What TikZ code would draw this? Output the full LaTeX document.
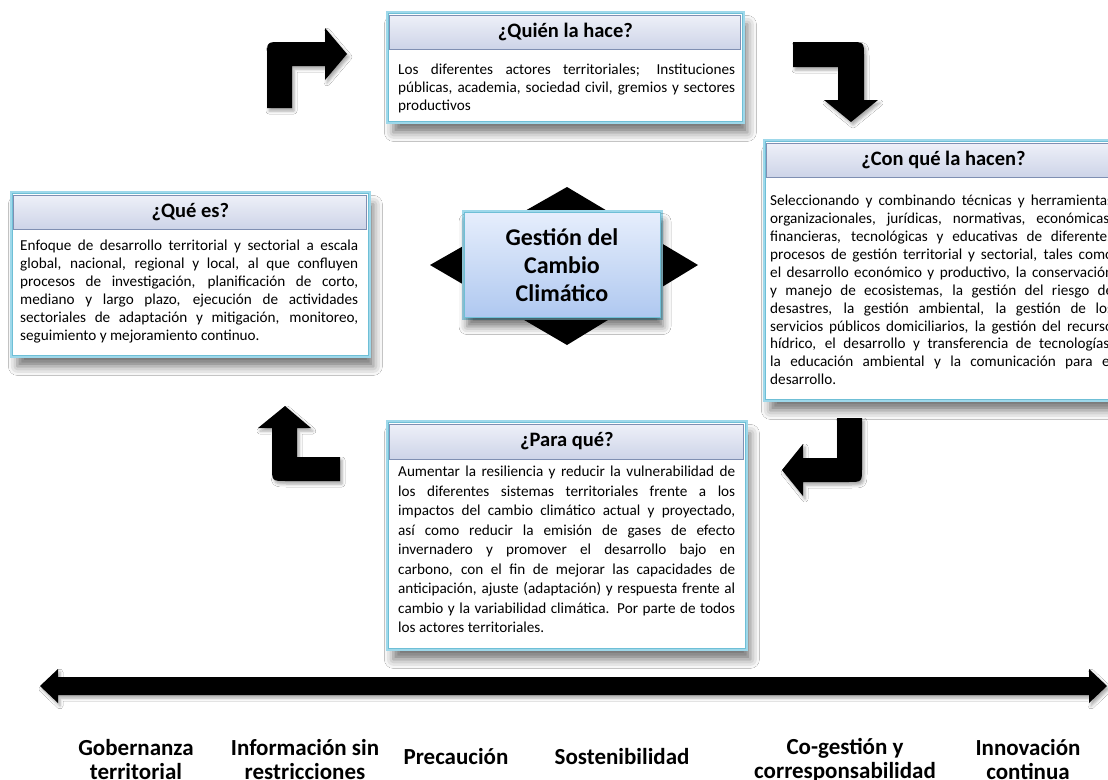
\documentclass[tikz,border=0pt]{standalone}
\usepackage{fontspec}
\setmainfont{Carlito}
\usetikzlibrary{shadows.blur}
\definecolor{glow}{HTML}{9ED8EA}
\definecolor{edge}{HTML}{6FBFD6}
\definecolor{hdtop}{HTML}{EEF0F8}
\definecolor{hdbot}{HTML}{CDD4E8}
\definecolor{hdline}{HTML}{7F8FB2}
\definecolor{ctop}{HTML}{E6EEFC}
\definecolor{cbot}{HTML}{AFC8F0}
\tikzset{
  panel/.style={fill=white, draw=edge, line width=0.8pt, inner sep=0pt,
    blur shadow={shadow xshift=5pt, shadow yshift=-11pt, shadow blur radius=9pt, shadow opacity=55},
    preaction={draw=glow, line width=5pt}},
  hdr/.style={draw=hdline, line width=1pt, top color=hdtop, bottom color=hdbot,
    font=\bfseries\fontsize{20.5}{24}\selectfont, inner sep=0pt},
  bodytxt/.style={anchor=north west, inner sep=0pt, align=justify},
  turnarrow/.style={fill=black, blur shadow={shadow xshift=2pt, shadow yshift=-3pt, shadow blur radius=3pt, shadow opacity=35}},
  principle/.style={font=\bfseries\fontsize{23}{24}\selectfont, align=center, inner sep=0pt},
  centerbox/.style={top color=ctop, bottom color=cbot, draw=edge, line width=1pt,
    preaction={draw=glow, line width=5pt},
    blur shadow={shadow xshift=3pt, shadow yshift=-9pt, shadow blur radius=8pt, shadow opacity=55},
    font=\bfseries\fontsize{24}{28}\selectfont, align=center, inner sep=0pt}
}
\begin{document}
\begin{tikzpicture}[x=1pt,y=-1pt]
\useasboundingbox (0,0) rectangle (1108,779);
\clip (0,0) rectangle (1108,779);
\fill[white] (0,0) rectangle (1108,779);

% ---- panels ----
\node[panel, anchor=north west, minimum width=354pt, minimum height=108pt] (quien) at (388,13) {};
\node[hdr, anchor=north, minimum width=351pt, minimum height=34pt] (quienH) at ([yshift=-1.5pt]quien.north) {¿Quién la hace?};
\node[bodytxt, font=\fontsize{15.2}{18}\selectfont, text width=337pt] (quienT) at (398,64) {Los diferentes actores territoriales; Instituciones\linebreak
públicas, academia, sociedad civil, gremios y sectores\linebreak
productivos};

\node[panel, anchor=north west, minimum width=356pt, minimum height=162pt] (quees) at (12,193) {};
\node[hdr, anchor=north, minimum width=353pt, minimum height=34pt] (queesH) at ([yshift=-1.5pt]quees.north) {¿Qué es?};
\node[bodytxt, font=\fontsize{15.2}{18}\selectfont, text width=338pt] (queesT) at (20,240) {Enfoque de desarrollo territorial y sectorial a escala\linebreak
global, nacional, regional y local, al que confluyen\linebreak
procesos de investigación, planificación de corto,\linebreak
mediano y largo plazo, ejecución de actividades\linebreak
sectoriales de adaptación y mitigación, monitoreo,\linebreak
seguimiento y mejoramiento continuo.};

\node[panel, anchor=north west, minimum width=356pt, minimum height=258pt] (conque) at (765,141) {};
\node[hdr, anchor=north, minimum width=353pt, minimum height=34pt] (conqueH) at ([yshift=-1.5pt]conque.north) {¿Con qué la hacen?};
\node[bodytxt, font=\fontsize{15.2}{17.9}\selectfont, text width=343pt] (conqueT) at (770,195) {Seleccionando y combinando técnicas y herramientas\linebreak
organizacionales, jurídicas, normativas, económicas,\linebreak
financieras, tecnológicas y educativas de diferentes\linebreak
procesos de gestión territorial y sectorial, tales como\linebreak
el desarrollo económico y productivo, la conservación\linebreak
y manejo de ecosistemas, la gestión del riesgo de\linebreak
desastres, la gestión ambiental, la gestión de los\linebreak
servicios públicos domiciliarios, la gestión del recurso\linebreak
hídrico, el desarrollo y transferencia de tecnologías,\linebreak
la educación ambiental y la comunicación para el\linebreak
desarrollo.};

\node[panel, anchor=north west, minimum width=357pt, minimum height=226pt] (para) at (388,422) {};
\node[hdr, anchor=north, minimum width=354pt, minimum height=35pt] (paraH) at ([yshift=-1.5pt]para.north) {¿Para qué?};
\node[bodytxt, font=\fontsize{15.2}{19.5}\selectfont, text width=337pt] (paraT) at (398,466) {Aumentar la resiliencia y reducir la vulnerabilidad de\linebreak
los diferentes sistemas territoriales frente a los\linebreak
impactos del cambio climático actual y proyectado,\linebreak
así como reducir la emisión de gases de efecto\linebreak
invernadero y promover el desarrollo bajo en\linebreak
carbono, con el fin de mejorar las capacidades de\linebreak
anticipación, ajuste (adaptación) y respuesta frente al\linebreak
cambio y la variabilidad climática. Por parte de todos\linebreak
los actores territoriales.};

% ---- center ----
\fill[black] (567,187) -- (698,265) -- (567,345) -- (430,265) -- cycle;
\node[centerbox, minimum width=196pt, minimum height=105pt] (gcc) at (562,265) {Gestión del\\Cambio\\Climático};

% ---- turning arrows ----
\path[turnarrow] (267,108) -- (267,56) .. controls (267,42) .. (281,42) -- (325,42) -- (325,28) -- (347,54) -- (325,80) -- (325,66) -- (292,66) -- (292,108) -- cycle;
\path[turnarrow] (793,42) -- (850,42) .. controls (864,42) .. (864,56) -- (864,100) -- (878,100) -- (851,122) -- (824,100) -- (838,100) -- (838,67) -- (793,67) -- cycle;
\path[turnarrow] (837,418) -- (862,418) -- (862,468) .. controls (862,482) .. (848,482) -- (803,482) -- (803,496) -- (782,470) -- (803,444) -- (803,458) -- (837,458) -- cycle;
\path[turnarrow] (340,457) -- (297,457) -- (297,428) -- (311,428) -- (285,406) -- (258,428) -- (272,428) -- (272,467) .. controls (272,481) .. (286,481) -- (340,481) -- cycle;

% ---- bottom double arrow ----
\path[turnarrow] (40,686) -- (58,669) -- (58,677) -- (1089,677) -- (1089,669) -- (1107,686) -- (1089,703) -- (1089,695) -- (58,695) -- (58,703) -- cycle;

% ---- principles ----
\node[principle] (p1) at (136,760) {Gobernanza\\territorial};
\node[principle] (p2) at (305,760) {Información sin\\restricciones};
\node[principle] (p3) at (456,757) {Precaución};
\node[principle] (p4) at (622,757) {Sostenibilidad};
\node[principle] (p5) at (845,760) {Co-gestión y\\corresponsabilidad};
\node[principle] (p6) at (1028,760) {Innovación\\continua};
\end{tikzpicture}
\end{document}
